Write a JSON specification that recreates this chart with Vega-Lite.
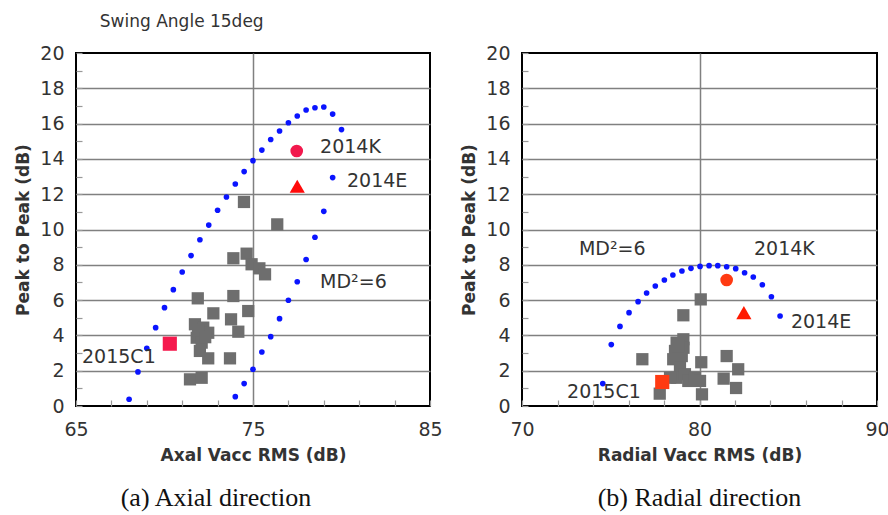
{
  "$schema": "https://vega.github.io/schema/vega-lite/v6.json",
  "padding": {"left": 13, "top": 13, "right": 5, "bottom": 5},
  "background": "white",
  "title": {"text": "Swing Angle 15deg", "anchor": "start", "frame": "bounds", "dx": 86, "fontSize": 17, "font": "DejaVu Sans", "fontWeight": "normal", "color": "#333", "offset": 12},
  "config": {
    "view": {"stroke": "black", "strokeWidth": 2},
    "axis": {"domain": false, "gridColor": "#808080", "gridWidth": 1.5, "labelFont": "DejaVu Sans", "labelFontSize": 19, "labelColor": "#333", "labelFlush": false, "titleFont": "DejaVu Sans", "titleFontSize": 17, "titleFontWeight": "bold", "titleColor": "#333", "tickColor": "#999", "tickSize": -6, "tickWidth": 1.2},
    "text": {"font": "DejaVu Sans", "fontSize": 19, "color": "#333"}
  },
  "hconcat": [
    {
      "width": 354, "height": 353,
      "title": {"text": "(a) Axial direction", "orient": "bottom", "font": "Liberation Serif", "fontSize": 26, "fontWeight": "normal", "color": "#111", "dx": -37, "offset": 22},
      "data": {"values": [
        {"x": 68, "y": 0.38, "type": "md"}, {"x": 68.5, "y": 1.93, "type": "md"}, {"x": 69, "y": 3.27, "type": "md"}, {"x": 69.5, "y": 4.44, "type": "md"}, {"x": 70, "y": 5.57, "type": "md"}, {"x": 70.5, "y": 6.59, "type": "md"}, {"x": 71, "y": 7.59, "type": "md"}, {"x": 71.5, "y": 8.52, "type": "md"}, {"x": 72, "y": 9.42, "type": "md"}, {"x": 72.5, "y": 10.25, "type": "md"}, {"x": 73, "y": 11.09, "type": "md"}, {"x": 73.5, "y": 11.84, "type": "md"}, {"x": 74, "y": 12.58, "type": "md"}, {"x": 74.5, "y": 13.28, "type": "md"}, {"x": 75, "y": 13.9, "type": "md"}, {"x": 75.5, "y": 14.5, "type": "md"}, {"x": 76, "y": 15.1, "type": "md"}, {"x": 76.5, "y": 15.58, "type": "md"}, {"x": 77, "y": 16.05, "type": "md"}, {"x": 77.5, "y": 16.43, "type": "md"}, {"x": 78, "y": 16.77, "type": "md"}, {"x": 78.5, "y": 16.9, "type": "md"}, {"x": 79, "y": 16.94, "type": "md"}, {"x": 79.5, "y": 16.54, "type": "md"}, {"x": 80, "y": 15.66, "type": "md"},
        {"x": 74, "y": 0.53, "type": "md"}, {"x": 74.5, "y": 1.27, "type": "md"}, {"x": 75, "y": 2.08, "type": "md"}, {"x": 75.5, "y": 3.06, "type": "md"}, {"x": 76, "y": 3.93, "type": "md"}, {"x": 76.5, "y": 4.95, "type": "md"}, {"x": 77, "y": 5.99, "type": "md"}, {"x": 77.5, "y": 7.04, "type": "md"}, {"x": 78, "y": 8.3, "type": "md"}, {"x": 78.5, "y": 9.56, "type": "md"}, {"x": 79, "y": 11.03, "type": "md"}, {"x": 79.5, "y": 12.94, "type": "md"},
        {"x": 74.49, "y": 11.56, "type": "sample"}, {"x": 76.37, "y": 10.29, "type": "sample"}, {"x": 73.89, "y": 8.37, "type": "sample"}, {"x": 74.64, "y": 8.63, "type": "sample"}, {"x": 74.92, "y": 8.03, "type": "sample"}, {"x": 75.36, "y": 7.8, "type": "sample"}, {"x": 75.68, "y": 7.46, "type": "sample"}, {"x": 71.88, "y": 6.1, "type": "sample"}, {"x": 73.89, "y": 6.23, "type": "sample"}, {"x": 72.76, "y": 5.25, "type": "sample"}, {"x": 74.73, "y": 5.38, "type": "sample"}, {"x": 73.76, "y": 4.91, "type": "sample"}, {"x": 74.17, "y": 4.21, "type": "sample"}, {"x": 71.72, "y": 4.63, "type": "sample"}, {"x": 72.19, "y": 4.44, "type": "sample"}, {"x": 72.47, "y": 4.15, "type": "sample"}, {"x": 71.82, "y": 3.87, "type": "sample"}, {"x": 72.1, "y": 3.59, "type": "sample"}, {"x": 72.0, "y": 3.12, "type": "sample"}, {"x": 72.47, "y": 2.7, "type": "sample"}, {"x": 73.7, "y": 2.7, "type": "sample"}, {"x": 71.44, "y": 1.51, "type": "sample"}, {"x": 72.1, "y": 1.6, "type": "sample"}, {"x": 71.9, "y": 4.3, "type": "sample"}, {"x": 72.3, "y": 3.9, "type": "sample"},
        {"x": 77.47, "y": 14.45, "type": "K"}, {"x": 77.5, "y": 12.45, "type": "E"}, {"x": 70.3, "y": 3.53, "type": "C1"},
        {"x": 78.79, "y": 14.67, "type": "label", "label": "2014K"}, {"x": 80.31, "y": 12.75, "type": "label", "label": "2014E"}, {"x": 78.79, "y": 7.04, "type": "label", "label": "MD²=6"}, {"x": 65.34, "y": 2.78, "type": "label", "label": "2015C1"}
      ]},
      "encoding": {
        "x": {"field": "x", "type": "quantitative", "scale": {"domain": [65, 85], "nice": false}, "title": "Axal Vacc RMS (dB)",
          "axis": {"values": [65, 67, 69, 71, 73, 75, 77, 79, 81, 83, 85], "labelExpr": "datum.value % 10 == 5 ? datum.label : ''", "gridOpacity": {"expr": "datum.value == 75 ? 1 : 0"}, "labelPadding": 20, "titlePadding": 8}},
        "y": {"field": "y", "type": "quantitative", "scale": {"domain": [0, 20], "nice": false}, "title": "Peak to Peak (dB)",
          "axis": {"values": [0, 1, 2, 3, 4, 5, 6, 7, 8, 9, 10, 11, 12, 13, 14, 15, 16, 17, 18, 19, 20], "labelExpr": "datum.value % 2 == 0 ? datum.label : ''", "gridOpacity": {"expr": "datum.value % 2 == 0 && datum.value > 0 && datum.value < 20 ? 1 : 0"}, "labelPadding": 18, "titlePadding": 7}}
      },
      "layer": [
        {"transform": [{"filter": "datum.type == 'md'"}], "mark": {"type": "circle", "color": "#0a14ff", "size": 32, "opacity": 1}},
        {"transform": [{"filter": "datum.type == 'sample'"}], "mark": {"type": "square", "color": "#6e6e6e", "size": 150, "opacity": 1}},
        {"transform": [{"filter": "datum.type == 'K'"}], "mark": {"type": "circle", "color": "#f2194d", "size": 160, "opacity": 1}},
        {"transform": [{"filter": "datum.type == 'E'"}], "mark": {"type": "point", "shape": "triangle-up", "filled": true, "color": "#ff0a0a", "size": 230, "opacity": 1}},
        {"transform": [{"filter": "datum.type == 'C1'"}], "mark": {"type": "square", "color": "#f5194d", "size": 200, "opacity": 1}},
        {"transform": [{"filter": "datum.type == 'label'"}], "mark": {"type": "text", "align": "left", "baseline": "middle"}, "encoding": {"text": {"field": "label"}}}
      ]
    },
    {
      "width": 355, "height": 353,
      "title": {"text": "(b) Radial direction", "orient": "bottom", "font": "Liberation Serif", "fontSize": 26, "fontWeight": "normal", "color": "#111", "offset": 22},
      "data": {"values": [
        {"x": 74.55, "y": 1.27, "type": "md"}, {"x": 75.03, "y": 3.48, "type": "md"}, {"x": 75.52, "y": 4.51, "type": "md"}, {"x": 76.03, "y": 5.29, "type": "md"}, {"x": 76.54, "y": 5.91, "type": "md"}, {"x": 77.02, "y": 6.4, "type": "md"}, {"x": 77.51, "y": 6.8, "type": "md"}, {"x": 78.02, "y": 7.14, "type": "md"}, {"x": 78.5, "y": 7.42, "type": "md"}, {"x": 79.01, "y": 7.65, "type": "md"}, {"x": 79.52, "y": 7.8, "type": "md"}, {"x": 80.03, "y": 7.91, "type": "md"}, {"x": 80.54, "y": 7.95, "type": "md"}, {"x": 81.03, "y": 7.95, "type": "md"}, {"x": 81.53, "y": 7.89, "type": "md"}, {"x": 82.04, "y": 7.78, "type": "md"}, {"x": 82.54, "y": 7.55, "type": "md"}, {"x": 83.03, "y": 7.31, "type": "md"}, {"x": 83.54, "y": 6.87, "type": "md"}, {"x": 84.05, "y": 6.19, "type": "md"}, {"x": 84.54, "y": 5.1, "type": "md"},
        {"x": 80.07, "y": 6.04, "type": "sample"}, {"x": 79.09, "y": 5.14, "type": "sample"}, {"x": 76.78, "y": 2.65, "type": "sample"}, {"x": 78.71, "y": 3.59, "type": "sample"}, {"x": 79.09, "y": 3.78, "type": "sample"}, {"x": 78.62, "y": 3.12, "type": "sample"}, {"x": 79.0, "y": 2.83, "type": "sample"}, {"x": 78.52, "y": 2.65, "type": "sample"}, {"x": 78.9, "y": 2.17, "type": "sample"}, {"x": 78.71, "y": 1.6, "type": "sample"}, {"x": 79.18, "y": 1.8, "type": "sample"}, {"x": 79.37, "y": 1.42, "type": "sample"}, {"x": 79.75, "y": 1.6, "type": "sample"}, {"x": 80.03, "y": 1.42, "type": "sample"}, {"x": 80.1, "y": 2.48, "type": "sample"}, {"x": 80.14, "y": 0.66, "type": "sample"}, {"x": 77.76, "y": 0.7, "type": "sample"}, {"x": 81.53, "y": 2.83, "type": "sample"}, {"x": 81.36, "y": 1.55, "type": "sample"}, {"x": 82.18, "y": 2.08, "type": "sample"}, {"x": 82.06, "y": 1.02, "type": "sample"}, {"x": 78.34, "y": 1.6, "type": "sample"}, {"x": 79.1, "y": 3.3, "type": "sample"}, {"x": 78.8, "y": 3.4, "type": "sample"},
        {"x": 81.53, "y": 7.14, "type": "K"}, {"x": 82.5, "y": 5.29, "type": "E"}, {"x": 77.9, "y": 1.36, "type": "C1"},
        {"x": 73.21, "y": 8.9, "type": "label", "label": "MD²=6"}, {"x": 83.07, "y": 8.9, "type": "label", "label": "2014K"}, {"x": 85.15, "y": 4.78, "type": "label", "label": "2014E"}, {"x": 72.54, "y": 0.81, "type": "label", "label": "2015C1"}
      ]},
      "encoding": {
        "x": {"field": "x", "type": "quantitative", "scale": {"domain": [70, 90], "nice": false}, "title": "Radial Vacc RMS (dB)",
          "axis": {"values": [70, 72, 74, 76, 78, 80, 82, 84, 86, 88, 90], "labelExpr": "datum.value % 10 == 0 ? datum.label : ''", "gridOpacity": {"expr": "datum.value == 80 ? 1 : 0"}, "labelPadding": 20, "titlePadding": 8}},
        "y": {"field": "y", "type": "quantitative", "scale": {"domain": [0, 20], "nice": false}, "title": "Peak to Peak (dB)",
          "axis": {"values": [0, 1, 2, 3, 4, 5, 6, 7, 8, 9, 10, 11, 12, 13, 14, 15, 16, 17, 18, 19, 20], "labelExpr": "datum.value % 2 == 0 ? datum.label : ''", "gridOpacity": {"expr": "datum.value % 2 == 0 && datum.value > 0 && datum.value < 20 ? 1 : 0"}, "labelPadding": 18, "titlePadding": 7}}
      },
      "layer": [
        {"transform": [{"filter": "datum.type == 'md'"}], "mark": {"type": "circle", "color": "#0a14ff", "size": 32, "opacity": 1}},
        {"transform": [{"filter": "datum.type == 'sample'"}], "mark": {"type": "square", "color": "#6e6e6e", "size": 150, "opacity": 1}},
        {"transform": [{"filter": "datum.type == 'K'"}], "mark": {"type": "circle", "color": "#ff3a12", "size": 160, "opacity": 1}},
        {"transform": [{"filter": "datum.type == 'E'"}], "mark": {"type": "point", "shape": "triangle-up", "filled": true, "color": "#ff1a00", "size": 230, "opacity": 1}},
        {"transform": [{"filter": "datum.type == 'C1'"}], "mark": {"type": "square", "color": "#ff3a12", "size": 200, "opacity": 1}},
        {"transform": [{"filter": "datum.type == 'label'"}], "mark": {"type": "text", "align": "left", "baseline": "middle"}, "encoding": {"text": {"field": "label"}}}
      ]
    }
  ],
  "spacing": 92,
  "bounds": "flush"
}
